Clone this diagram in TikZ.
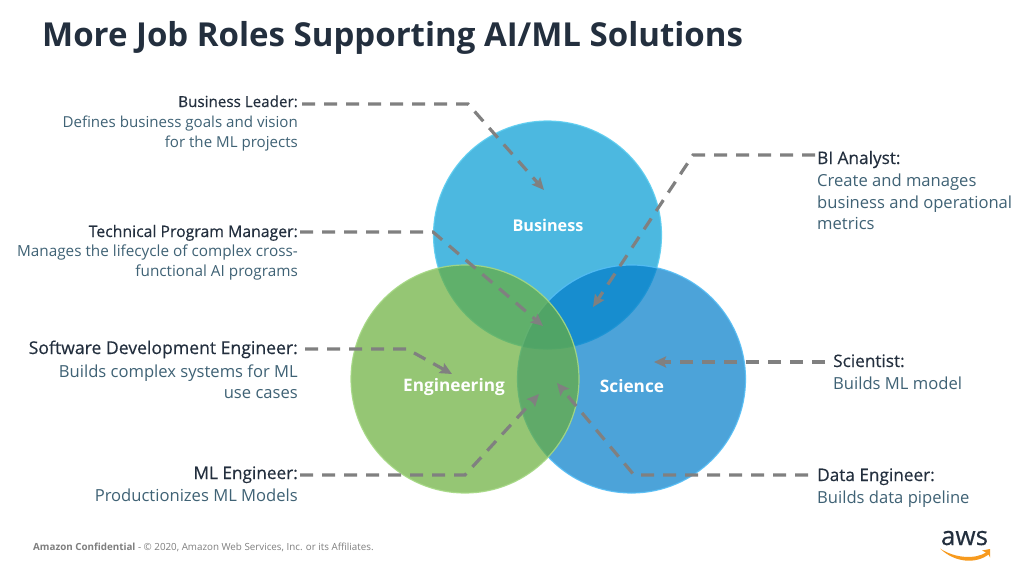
\documentclass[tikz,border=0pt]{standalone}
\usepackage{fontspec}
\setmainfont{Open Sans}
\newfontfamily\headfont[FakeBold=0.35]{Open Sans}
\usetikzlibrary{arrows.meta}
\definecolor{ink}{HTML}{232F3E}
\definecolor{descink}{HTML}{3F6275}
\definecolor{foot}{HTML}{7F7F7F}
\definecolor{linegray}{HTML}{808080}
\definecolor{bizfill}{HTML}{009BD3}
\definecolor{bizedge}{HTML}{5CCDF0}
\definecolor{scifill}{HTML}{017CC9}
\definecolor{sciedge}{HTML}{55BDF5}
\definecolor{engfill}{HTML}{69AE3A}
\definecolor{engedge}{HTML}{A5D884}
\definecolor{awsorange}{HTML}{F79A1E}
\tikzset{
  x=1pt,y=-1pt,
  venn/.style={circle,minimum size=228pt,inner sep=0pt,fill opacity=.7,line width=1.2pt,draw opacity=.9},
  venntext/.style={text=white,font=\fontsize{17.2}{19}\selectfont\bfseries},
  headl/.style={anchor=base east,inner sep=0pt,text=ink,font=\headfont\fontsize{17.2}{20}\selectfont},
  headr/.style={anchor=base west,inner sep=0pt,text=ink,font=\headfont\fontsize{17.2}{20}\selectfont},
  descl/.style={anchor=north east,inner sep=0pt,align=right,text=descink,font=\fontsize{16.6}{20.5}\selectfont},
  descn/.style={anchor=north east,inner sep=0pt,align=right,text=descink,font=\fontsize{15.1}{20}\selectfont},
  descr/.style={anchor=north west,inner sep=0pt,align=left,text=descink,font=\fontsize{16.6}{21.5}\selectfont},
  link/.style={draw=linegray,line width=3.2pt,dash pattern=on 13pt off 9pt,-{Stealth[length=12pt,width=11pt,inset=2pt]}},
}
\begin{document}
\begin{tikzpicture}
\useasboundingbox (0,0) rectangle (1024,575);
\fill[white] (0,0) rectangle (1024,575);
% title
\node[anchor=base west,inner sep=0pt,text=ink,font=\fontsize{33}{36}\selectfont\bfseries] (title) at (42,46.5) {More Job Roles Supporting AI/ML Solutions};
% circles
\node[venn,fill=bizfill,draw=bizedge] (biz) at (547.5,235) {};
\node[venn,fill=scifill,draw=sciedge] (sci) at (631.5,379) {};
\node[venn,fill=engfill,draw=engedge] (eng) at (465,379) {};
\node[venntext,font=\fontsize{16.2}{19}\selectfont\bfseries] (bizt) at (548,225.5) {Business};
\node[venntext] (scit) at (632,386) {Science};
\node[venntext] (engt) at (454,387) {Engineering};
% left labels
\node[headl,font=\headfont\fontsize{15.2}{20}\selectfont] (bl) at (298,107) {Business Leader:};
\node[descn] (bld) at (298,115.5) {Defines business goals and vision\\for the ML projects};
\node[headl,font=\headfont\fontsize{15.8}{20}\selectfont] (tpm) at (298,237) {Technical Program Manager:};
\node[descn,font=\fontsize{15.3}{20}\selectfont] (tpmd) at (298,245) {Manages the lifecycle of complex cross-\\functional AI programs};
\node[headl,font=\headfont\fontsize{17.6}{20}\selectfont] (sde) at (298,354) {Software Development Engineer:};
\node[descl] (sded) at (298,365) {Builds complex systems for ML\\use cases};
\node[headl] (mle) at (298,479) {ML Engineer:};
\node[descl] (mled) at (298,489) {Productionizes ML Models};
% right labels
\node[headr] (bia) at (817,164) {BI Analyst:};
\node[descr] (biad) at (817,174) {Create and manages\\business and operational\\metrics};
\node[headr] (sct) at (833,367) {Scientist:};
\node[descr] (sctd) at (833,377) {Builds ML model};
\node[headr] (den) at (817,481) {Data Engineer:};
\node[descr] (dend) at (817,491) {Builds data pipeline};
% connector waypoints
\coordinate (c1) at (468,104); \coordinate (t1) at (544,190);
\coordinate (c2) at (433,232); \coordinate (t2) at (543,326);
\coordinate (c3) at (407,349); \coordinate (t3) at (452,374);
\coordinate (c4) at (465,475); \coordinate (t4) at (539,394);
\coordinate (c5) at (693,155); \coordinate (t5) at (593,307);
\coordinate (t6) at (654,362);
\coordinate (c7) at (634,475); \coordinate (t7) at (557,383);
\coordinate (s1) at (302,104); \coordinate (s2) at (300,232);
\coordinate (s3) at (305,349); \coordinate (s4) at (300,475);
\coordinate (s5) at (815,155); \coordinate (s6) at (825,362); \coordinate (s7) at (808,475);
\draw[link] (s1) -- (c1) -- (t1);
\draw[link] (s2) -- (c2) -- (t2);
\draw[link] (s3) -- (c3) -- (t3);
\draw[link] (s4) -- (c4) -- (t4);
\draw[link] (s5) -- (c5) -- (t5);
\draw[link] (s6) -- (t6);
\draw[link] (s7) -- (c7) -- (t7);
% footer
\node[anchor=base west,inner sep=0pt,text=foot,font=\fontsize{9.8}{11}\selectfont] (foot) at (33,550) {\textbf{Amazon Confidential} - © 2020, Amazon Web Services, Inc. or its Affiliates.};
% aws logo
\node[anchor=base,inner sep=0pt,text=ink,font=\headfont\fontsize{26}{28}\selectfont] (aws) at (964.5,545) {aws};
\fill[awsorange] (940,548.5) .. controls (956,559) and (976,559) .. (986,552.5) -- (982,550.5) -- (990,549) -- (990,557.5) -- (988.5,554.5) .. controls (976,564) and (955,563) .. (940,548.5) -- cycle;
\end{tikzpicture}
\end{document}
